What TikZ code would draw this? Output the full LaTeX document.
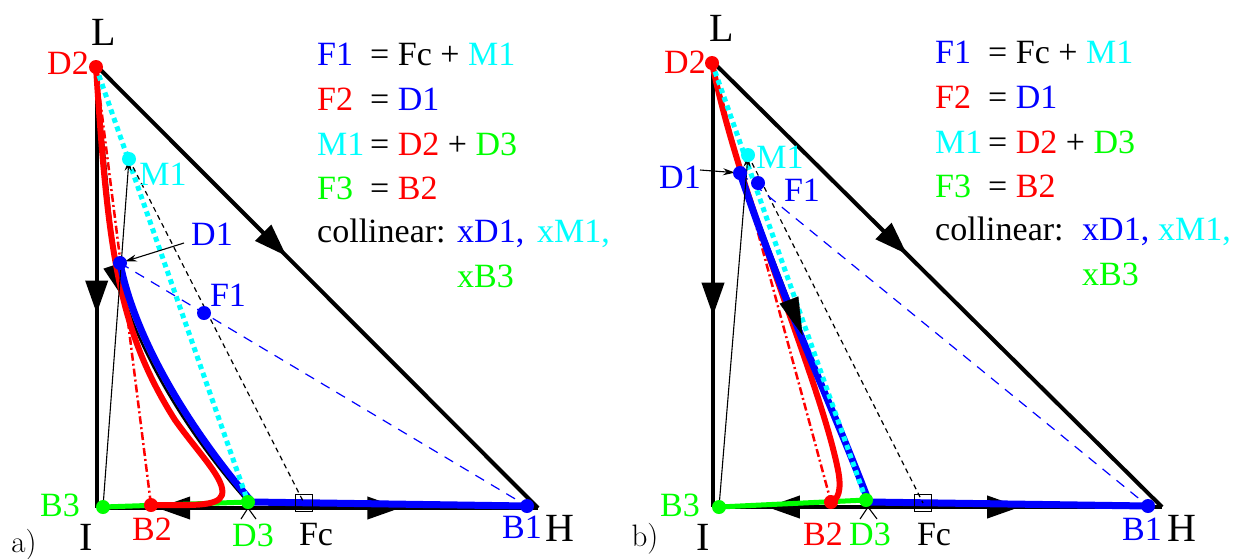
\documentclass[tikz,border=0pt]{standalone}
\usepackage{fontspec}
\newfontfamily\tms{Liberation Serif}
\usetikzlibrary{arrows.meta,decorations.markings}
\definecolor{cy}{RGB}{0,255,255}
\definecolor{gr}{RGB}{0,255,0}
\definecolor{bl}{RGB}{0,0,255}
\definecolor{rd}{RGB}{255,0,0}
\newcommand\labfont{\tms\fontsize{34}{40}\selectfont}
\newcommand\vtxfont{\tms\fontsize{40}{46}\selectfont}
\newcommand\legfont{\tms\fontsize{34}{40}\selectfont}
\newcommand\panfont{\fontsize{31}{36}\selectfont}
\begin{document}
\begin{tikzpicture}[x=1pt,y=-1pt,
  edge/.style={line width=4pt,line join=miter},
  tri/.style={postaction={decorate},decoration={markings,mark=at position #1 with {\arrow{Triangle[length=33pt,width=22pt]}}}},
  bot/.style 2 args={postaction={decorate},decoration={markings,
     mark=at position #1 with {\arrowreversed{Triangle[length=33pt,width=22pt]}},
     mark=at position #2 with {\arrow{Triangle[length=33pt,width=22pt]}}}},
  traj/.style={line width=2.5pt,line join=round},
  trajarrow/.style={postaction={decorate},decoration={markings,mark=at position #1 with {\arrow{Triangle[length=38pt,width=20pt]}}}},
  feedline/.style={gr,line width=5pt},
  redcurve/.style={rd,line width=6pt,line cap=round,line join=round},
  bluecurve/.style={bl,line width=7pt,line join=miter},
  cyandot/.style={cy,line width=5pt,dash pattern=on 5pt off 4pt},
  blackdash/.style={line width=1.2pt,dash pattern=on 5pt off 4pt},
  bluedash/.style={bl,line width=1.2pt,dash pattern=on 10pt off 8pt},
  reddashdot/.style={rd,line width=2.5pt,dash pattern=on 8pt off 3pt on 2pt off 3pt},
  thinarrow/.style={line width=1.1pt,-{Stealth[length=12pt,width=7pt]}},
  thinline/.style={line width=1.1pt},
  dot/.style={circle,fill=#1,inner sep=0pt,minimum size=14pt},
  fcbox/.style={draw,line width=1.2pt,inner sep=0pt,minimum size=17pt},
  lab/.style={inner sep=0pt,font=\labfont},
  vlab/.style={inner sep=0pt,font=\vtxfont},
  leg/.style={inner sep=0pt,anchor=base west,font=\legfont},
  pan/.style={inner sep=0pt,font=\panfont},
]
\useasboundingbox (0,0) rectangle (1244,558);

% ================= panel a =================
\coordinate (aL) at (96.7,66);
\coordinate (aI) at (96.7,508);
\coordinate (aH) at (538,508);
\coordinate (aD2) at (96,67);
\coordinate (aM1) at (129,159);
\coordinate (aD1) at (120,263);
\coordinate (aF1) at (204,313);
\coordinate (aB3) at (103,507);
\coordinate (aB2) at (151,505);
\coordinate (aD3) at (248,502);
\coordinate (aB1) at (527,506);
\coordinate (aFc) at (304,503);
\coordinate (aD1p) at (184,243);
\coordinate (aMk) at (248,508);
\coordinate (aMkl) at (241,519);
\coordinate (aMkr) at (256,519);

\draw[edge,tri=0.56] (aL) -- (aI);
\draw[edge,tri=0.43] (aL) -- (aH);
\draw[edge,bot={0.137}{0.688}] (aI) -- (aH);

\draw[traj,trajarrow=0.5] (aD2) .. controls (104,150) and (110,220) .. (115,263)
   .. controls (130,340) and (185,432) .. (aD3);
\draw[feedline] (aB3) -- (aD3);
\draw[reddashdot] (aD2) -- (aB2);
\draw[redcurve] (aD2) .. controls (108,250) and (118,330) .. (175,420)
   .. controls (200,455) and (226,480) .. (222,495)
   .. controls (218,507) and (190,505) .. (aB2);
\draw[bluecurve] (aD1) .. controls (135,340) and (190,430) .. (252,502) -- (aB1);
\draw[cyandot] (aD2) -- (aD3);
\draw[blackdash] (aM1) -- (aFc);
\draw[bluedash] (aD1) -- (aB1);
\draw[thinarrow] (aB3) -- (aM1);
\draw[thinarrow,shorten >=5pt] (aD1p) -- (aD1);
\draw[thinline] (aMkl) -- (aMk) -- (aMkr);
\node[fcbox] (aFcbox) at (aFc) {};

\node[dot=rd] (aD2d) at (aD2) {};
\node[dot=cy] (aM1d) at (aM1) {};
\node[dot=bl] (aD1d) at (aD1) {};
\node[dot=bl] (aF1d) at (aF1) {};
\node[dot=gr] (aB3d) at (aB3) {};
\node[dot=rd] (aB2d) at (aB2) {};
\node[dot=gr] (aD3d) at (aD3) {};
\node[dot=bl] (aB1d) at (aB1) {};

\node[vlab] (aLl) at (104,32) {L};
\node[vlab] (aIl) at (86,537) {I};
\node[vlab] (aHl) at (560,528) {H};
\node[lab,rd] (aD2l) at (68,63) {D2};
\node[lab,cy] (aM1l) at (163,174) {M1};
\node[lab,bl] (aD1l) at (212,234) {D1};
\node[lab,bl] (aF1l) at (228,295) {F1};
\node[lab,gr] (aB3l) at (60,505) {B3};
\node[lab,rd] (aB2l) at (152,529) {B2};
\node[lab,gr] (aD3l) at (253,535) {D3};
\node[lab] (aFcl) at (316,535) {Fc};
\node[lab,bl] (aB1l) at (522,527) {B1};
\node[pan] (apan) at (24,545) {a)};

\node[leg] (aR1a) at (317,65) {\textcolor{bl}{F1}};
\node[leg] (aR1b) at (370,65) {= Fc + \textcolor{cy}{M1}};
\node[leg] (aR2a) at (317,110) {\textcolor{rd}{F2}};
\node[leg] (aR2b) at (370,110) {= \textcolor{bl}{D1}};
\node[leg] (aR3a) at (317,155) {\textcolor{cy}{M1}};
\node[leg] (aR3b) at (370,155) {= \textcolor{rd}{D2} + \textcolor{gr}{D3}};
\node[leg] (aR4a) at (317,199) {\textcolor{gr}{F3}};
\node[leg] (aR4b) at (370,199) {= \textcolor{rd}{B2}};
\node[leg] (aR5a) at (317,242) {collinear:};
\node[leg] (aR5b) at (457,242) {\textcolor{bl}{xD1,}};
\node[leg] (aR5c) at (537,242) {\textcolor{cy}{xM1,}};
\node[leg] (aR6) at (457,287) {\textcolor{gr}{xB3}};

% ================= panel b =================
\coordinate (bL) at (713,62);
\coordinate (bI) at (713,507);
\coordinate (bH) at (1162,507);
\coordinate (bD2) at (712,63);
\coordinate (bM1) at (748,155);
\coordinate (bD1) at (740,173);
\coordinate (bF1) at (758,183);
\coordinate (bB3) at (719,507);
\coordinate (bB2) at (831,502);
\coordinate (bD3) at (866,500);
\coordinate (bB1) at (1148,506);
\coordinate (bFc) at (923,503);
\coordinate (bD1p) at (700,170);
\coordinate (bMk) at (868,507);
\coordinate (bMkl) at (860,519);
\coordinate (bMkr) at (877,519);

\draw[edge,tri=0.57] (bL) -- (bI);
\draw[edge,tri=0.432] (bL) -- (bH);
\draw[edge,bot={0.12}{0.684}] (bI) -- (bH);

\draw[traj] (bD2) -- (bD1) -- (bD3);
\draw[feedline] (bB3) -- (bD3);
\draw[reddashdot] (bD2) -- (bB2);
\draw[redcurve] (bD2) .. controls (740,200) and (820,380) .. (838,470)
   .. controls (842,490) and (838,500) .. (bB2);
\draw[bluecurve] (bD1) .. controls (790,320) and (830,400) .. (869,502) -- (bB1);
\draw[cyandot] (bD2) -- (bD3);
\path[trajarrow=0.62] (bD2) -- (bD1) -- (bD3);
\draw[blackdash] (bM1) -- (bFc);
\draw[bluedash] (bD1) -- (bB1);
\draw[thinarrow] (bB3) -- (bM1);
\draw[thinarrow,shorten >=5pt] (bD1p) -- (bD1);
\draw[thinline] (bMkl) -- (bMk) -- (bMkr);
\node[fcbox] (bFcbox) at (bFc) {};

\node[dot=rd] (bD2d) at (bD2) {};
\node[dot=cy] (bM1d) at (bM1) {};
\node[dot=bl] (bD1d) at (bD1) {};
\node[dot=bl] (bF1d) at (bF1) {};
\node[dot=gr] (bB3d) at (bB3) {};
\node[dot=rd] (bB2d) at (bB2) {};
\node[dot=gr] (bD3d) at (bD3) {};
\node[dot=bl] (bB1d) at (bB1) {};

\node[vlab] (bLl) at (722,28) {L};
\node[vlab] (bIl) at (703,537) {I};
\node[vlab] (bHl) at (1182,528) {H};
\node[lab,rd] (bD2l) at (685,62) {D2};
\node[lab,cy] (bM1l) at (780,157) {M1};
\node[lab,bl] (bD1l) at (680,177) {D1};
\node[lab,bl] (bF1l) at (802,190) {F1};
\node[lab,gr] (bB3l) at (680,505) {B3};
\node[lab,rd] (bB2l) at (823,534) {B2};
\node[lab,gr] (bD3l) at (870,534) {D3};
\node[lab] (bFcl) at (934,535) {Fc};
\node[lab,bl] (bB1l) at (1142,529) {B1};
\node[pan] (bpan) at (645,539) {b)};

\node[leg] (bR1a) at (935,63) {\textcolor{bl}{F1}};
\node[leg] (bR1b) at (988,63) {= Fc + \textcolor{cy}{M1}};
\node[leg] (bR2a) at (935,108) {\textcolor{rd}{F2}};
\node[leg] (bR2b) at (988,108) {= \textcolor{bl}{D1}};
\node[leg] (bR3a) at (935,153) {\textcolor{cy}{M1}};
\node[leg] (bR3b) at (988,153) {= \textcolor{rd}{D2} + \textcolor{gr}{D3}};
\node[leg] (bR4a) at (935,197) {\textcolor{gr}{F3}};
\node[leg] (bR4b) at (988,197) {= \textcolor{rd}{B2}};
\node[leg] (bR5a) at (935,240) {collinear:};
\node[leg] (bR5b) at (1082,240) {\textcolor{bl}{xD1,}};
\node[leg] (bR5c) at (1158,240) {\textcolor{cy}{xM1,}};
\node[leg] (bR6) at (1082,285) {\textcolor{gr}{xB3}};
\end{tikzpicture}
\end{document}
